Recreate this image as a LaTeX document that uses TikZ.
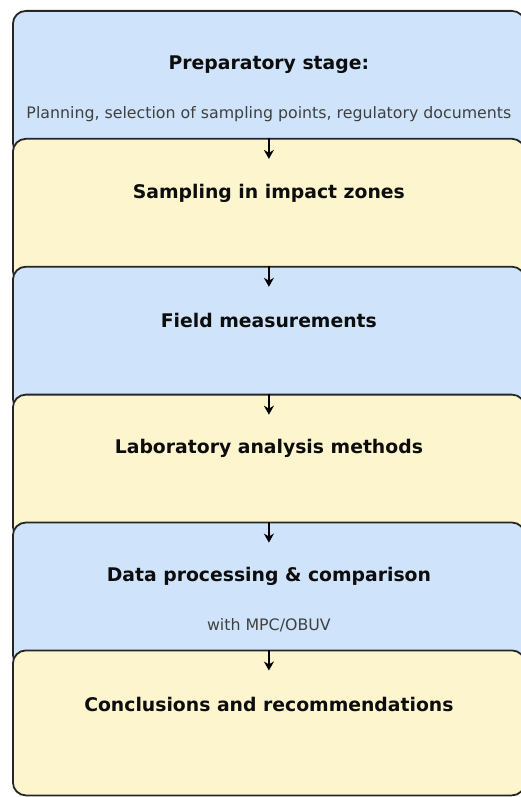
\documentclass[tikz,border=0pt]{standalone}
\usepackage{fontspec}
\setmainfont{DejaVu Sans}
\usepackage{tikz}
\usetikzlibrary{arrows.meta, positioning, calc}
\definecolor{stageblue}{RGB}{207,228,250}
\definecolor{stageyellow}{RGB}{253,245,205}
\tikzstyle{stage} = [rectangle, rounded corners=13pt, minimum width=512pt, minimum height=145pt, draw=black!85, line width=1.8pt, inner sep=0pt]
\tikzstyle{title} = [font=\bfseries\fontsize{18.8}{22}\selectfont, text=black!95]
\tikzstyle{sub} = [font=\fontsize{15.8}{19}\selectfont, text=black!75]
\tikzstyle{arrow} = [line width=2.4pt,-{Stealth[length=9pt,width=10pt]}]

\begin{document}
\begin{tikzpicture}[node distance=-18.9pt]

\path[use as bounding box] (0pt,0pt) rectangle (521pt,-797pt);
\clip (0pt,0pt) rectangle (521pt,-797pt);

% Preparatory stage
\node (s1) [stage, fill=stageblue, anchor=north west] at (12pt,-10pt) {};
\node (t1) [title] at ($(s1.north)+(0,-55pt)$) {Preparatory stage:};
\node (d1) [sub] at ($(s1.north)+(0,-104pt)$) {Planning, selection of sampling points, regulatory documents};

% Sampling
\node (s2) [stage, fill=stageyellow, below=of s1] {};
\node (t2) [title] at ($(s2.north)+(0,-55pt)$) {Sampling in impact zones};

% Field
\node (s3) [stage, fill=stageblue, below=of s2] {};
\node (t3) [title] at ($(s3.north)+(0,-55pt)$) {Field measurements};

% Laboratory
\node (s4) [stage, fill=stageyellow, below=of s3] {};
\node (t4) [title] at ($(s4.north)+(0,-55pt)$) {Laboratory analysis methods};

% Data processing
\node (s5) [stage, fill=stageblue, below=of s4] {};
\node (t5) [title] at ($(s5.north)+(0,-55pt)$) {Data processing \& comparison};
\node (d5) [sub] at ($(s5.north)+(0,-104pt)$) {with MPC/OBUV};

% Conclusions
\node (s6) [stage, fill=stageyellow, below=of s5] {};
\node (t6) [title] at ($(s6.north)+(0,-55pt)$) {Conclusions and recommendations};

% Arrows
\foreach \i in {2,...,6} {
  \coordinate (a\i) at ($(s\i.north)+(0,-21pt)$);
  \draw [arrow] (s\i.north) -- (a\i);
}

\end{tikzpicture}
\end{document}
